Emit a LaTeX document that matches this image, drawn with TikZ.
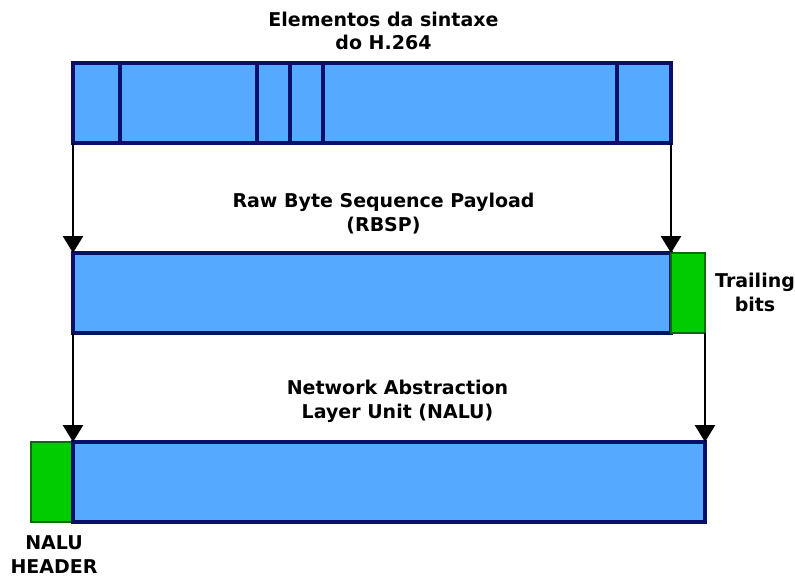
\documentclass[tikz,border=0pt]{standalone}
\usepackage{fontspec}
\setmainfont{DejaVu Sans}
\usetikzlibrary{arrows.meta}
\definecolor{boxblue}{HTML}{55AAFF}
\definecolor{boxedge}{HTML}{0A0F6A}
\definecolor{boxgreen}{HTML}{00CC00}
\definecolor{greenedge}{HTML}{0B6A0B}
\begin{document}
\begin{tikzpicture}[x=1pt,y=-1pt,
  seg/.style={rectangle, draw=boxedge, fill=boxblue, line width=3.2pt, inner sep=0pt, outer sep=0pt, minimum height=80pt, anchor=north west},
  gseg/.style={rectangle, draw=greenedge, fill=boxgreen, line width=2.8pt, inner sep=0pt, outer sep=0pt, minimum height=80pt, anchor=north west},
  arr/.style={line width=2.8pt, -{Triangle[length=17pt,width=20pt]}},
  lbl/.style={font=\bfseries\fontsize{19}{23.5}\selectfont, align=center, inner sep=0pt, anchor=base}]
\useasboundingbox (0,0) rectangle (795,578);
% top bar
\node[seg, minimum width=47pt] (s1) at (73,63) {};
\node[seg, minimum width=137pt] (s2) at (120,63) {};
\node[seg, minimum width=33pt] (s3) at (257,63) {};
\node[seg, minimum width=33pt] (s4) at (290,63) {};
\node[seg, minimum width=294pt] (s5) at (323,63) {};
\node[seg, minimum width=54pt] (s6) at (617,63) {};
% middle bar
\node[seg, minimum width=598pt] (rbsp) at (73,253) {};
\node[gseg, minimum width=34pt] (trail) at (671,253) {};
% bottom bar
\node[gseg, minimum width=42pt] (hdr) at (31,442) {};
\node[seg, minimum width=632pt] (nalu) at (73,442) {};
% arrows
\draw[arr] (s1.south west) -- (rbsp.north west);
\draw[arr] (s6.south east) -- (rbsp.north east);
\draw[arr] (rbsp.south west) -- (nalu.north west);
\draw[arr] (trail.south east) -- (nalu.north east);
% labels
\node[lbl] (t1) at (383.5,50) {Elementos da sintaxe\\do H.264};
\node[lbl] (t2) at (383.5,231) {Raw Byte Sequence Payload\\(RBSP)};
\node[lbl] (t3) at (397.5,418) {Network Abstraction\\Layer Unit (NALU)};
\node[lbl] (t4) at (755,311) {Trailing\\bits};
\node[lbl] (t5) at (54,573) {NALU\\HEADER};
\end{tikzpicture}
\end{document}
